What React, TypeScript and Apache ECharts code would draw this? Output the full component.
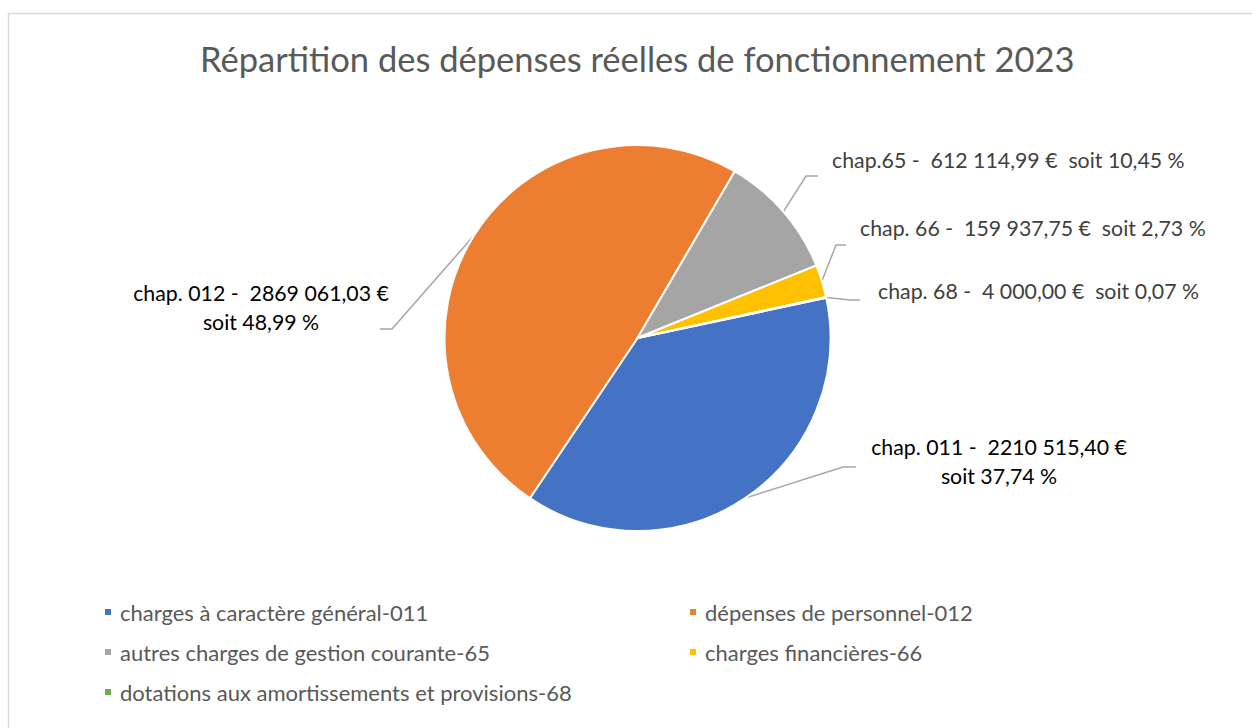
import React, { useEffect, useRef } from "react";
import * as echarts from "echarts";

const categories = [
  "charges à caractère général-011",
  "dépenses de personnel-012",
  "autres charges de gestion courante-65",
  "charges financières-66",
  "dotations aux amortissements et provisions-68",
];
const chapters = ["chap. 011", "chap. 012", "chap.65", "chap. 66", "chap. 68"];
const values = [2210515.4, 2869061.03, 612114.99, 159937.75, 4000.0];
const percentLabels = ["37,74", "48,99", "10,45", "2,73", "0,07"];

const colors = ["#4472C4", "#ED7D31", "#A5A5A5", "#FFC000", "#70AD47"];
const labelColors = ["#000000", "#000000", "#404040", "#404040", "#404040"];

// label placement (layout only)
const labelLayouts = [
  { x: 999, y: 461, align: "center", wrap: true, elbow: [843, 467], end: [856, 467] },
  { x: 261, y: 307, align: "center", wrap: true, elbow: [392, 329], end: [380, 329] },
  { x: 832, y: 160, align: "left", wrap: false, elbow: [806, 176], end: [818, 176] },
  { x: 860, y: 228, align: "left", wrap: false, elbow: [836, 245], end: [846, 245] },
  { x: 878, y: 291, align: "left", wrap: false, elbow: [850, 300], end: [860, 300] },
];

const FONT = "Lato, 'Open Sans', sans-serif";

function formatAmount(v: number): string {
  const fixed = v.toFixed(2);
  const [intPart, dec] = fixed.split(".");
  const intStr = intPart.length > 3 ? intPart.slice(0, -3) + " " + intPart.slice(-3) : intPart;
  return intStr + "," + dec;
}

export default function App() {
  const ref = useRef<HTMLDivElement>(null);
  useEffect(() => {
    if (!ref.current) return;
    const chart = echarts.init(ref.current, undefined, { renderer: "svg" });
    const data = categories.map((name, i) => ({
      name,
      value: values[i],
      itemStyle: { color: colors[i] },
      label: { color: labelColors[i] },
    }));
    const legendText = {
      fontFamily: FONT,
      fontSize: 22,
      color: "#595959",
      lineHeight: 26,
      padding: [0, 0, 0, 3],
    };
    chart.setOption({
      animation: false,
      backgroundColor: "#ffffff",
      title: {
        text: "Répartition des dépenses réelles de fonctionnement 2023",
        left: 195,
        top: 36,
        textStyle: { fontFamily: FONT, fontSize: 34.5, fontWeight: "normal", color: "#595959" },
      },
      graphic: [
        {
          type: "rect",
          z: -10,
          shape: { x: 8.5, y: 13.5, width: 1400, height: 900 },
          style: { fill: "none", stroke: "#D9D9D9", lineWidth: 1.5 },
        },
      ],
      legend: [
        {
          orient: "vertical",
          left: 98,
          top: 594,
          data: [categories[0], categories[2], categories[4]],
          icon: "rect",
          itemWidth: 8,
          itemHeight: 8,
          itemGap: 14,
          selectedMode: false,
          textStyle: legendText,
        },
        {
          orient: "vertical",
          left: 683,
          top: 594,
          data: [categories[1], categories[3]],
          icon: "rect",
          itemWidth: 8,
          itemHeight: 8,
          itemGap: 14,
          selectedMode: false,
          textStyle: legendText,
        },
      ],
      series: [
        {
          type: "pie",
          center: [637.5, 338],
          radius: 193,
          startAngle: 12,
          clockwise: true,
          data,
          itemStyle: { borderColor: "#ffffff", borderWidth: 2 },
          emphasis: { disabled: true },
          label: {
            show: true,
            position: "outside",
            fontFamily: FONT,
            fontSize: 21.3,
            lineHeight: 29,
            formatter: (p: any) => {
              const i = p.dataIndex;
              const amount = formatAmount(values[i]);
              return labelLayouts[i].wrap
                ? `${chapters[i]} -  ${amount} €\nsoit ${percentLabels[i]} %`
                : `${chapters[i]} -  ${amount} €  soit ${percentLabels[i]} %`;
            },
          },
          labelLine: {
            show: true,
            length: 10,
            length2: 10,
            smooth: false,
            lineStyle: { color: "#A6A6A6", width: 1.5 },
          },
          labelLayout: (params: any) => {
            const i = params.dataIndex;
            const L = labelLayouts[i];
            const p0 = params.labelLinePoints ? params.labelLinePoints[0] : L.elbow;
            return {
              x: L.x,
              y: L.y,
              align: L.align,
              verticalAlign: "middle",
              labelLinePoints: [p0, L.elbow, L.end],
            };
          },
        },
      ],
    });
    return () => chart.dispose();
  }, []);
  return (
    <div
      ref={ref}
      style={{ position: "fixed", left: 0, top: 0, width: 1252, height: 728 }}
    />
  );
}
